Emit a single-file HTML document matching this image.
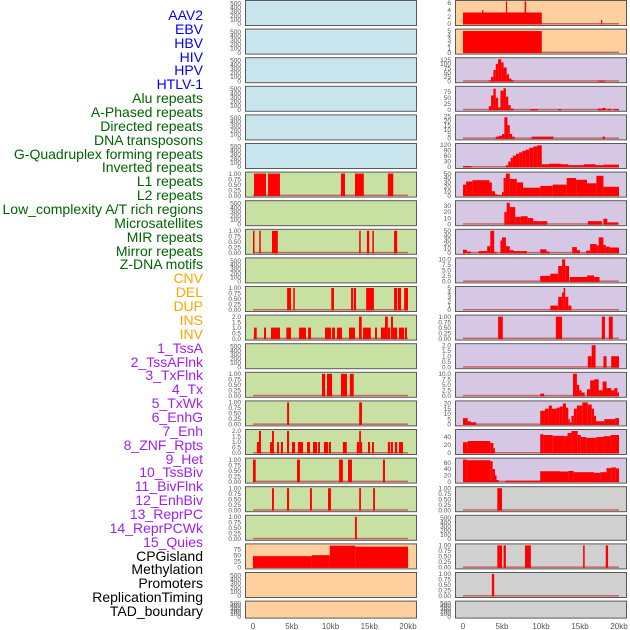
<!DOCTYPE html>
<html><head><meta charset="utf-8">
<style>
body{margin:0;background:#fff;width:630px;height:630px;overflow:hidden;position:relative;font-family:"Liberation Sans",sans-serif}
.lab{position:absolute;right:427px;font-size:14px;line-height:14px;white-space:nowrap}
svg{position:absolute;left:0;top:0}
</style></head><body>
<div id="labels"></div>
<svg id="chart" width="630" height="630"></svg>
<script>
const labelNames=["AAV2","EBV","HBV","HIV","HPV","HTLV-1","Alu repeats","A-Phased repeats","Directed repeats","DNA transposons","G-Quadruplex forming repeats","Inverted repeats","L1 repeats","L2 repeats","Low_complexity A/T rich regions","Microsatellites","MIR repeats","Mirror repeats","Z-DNA motifs","CNV","DEL","DUP","INS","INV","1_TssA","2_TssAFlnk","3_TxFlnk","4_Tx","5_TxWk","6_EnhG","7_Enh","8_ZNF_Rpts","9_Het","10_TssBiv","11_BivFlnk","12_EnhBiv","13_ReprPC","14_ReprPCWk","15_Quies","CPGisland","Methylation","Promoters","ReplicationTiming","TAD_boundary"];
const labelColors=["#0000ff","#006400","#ffa500","#a020f0","#000"];
const labelGroups=[6,13,5,15,5];
const xTicks=[0,5000,10000,15000,20000];
const xTickLabels=["0","5kb","10kb","15kb","20kb"];
// [startKb,endKb,value]
const leftBg=["#c8e4ec","#c8e4ec","#c8e4ec","#c8e4ec","#c8e4ec","#c8e4ec","#c8e0a2","#c8e0a2","#c8e0a2","#c8e0a2","#c8e0a2","#c8e0a2","#c8e0a2","#c8e0a2","#c8e0a2","#c8e0a2","#c8e0a2","#c8e0a2","#c8e0a2","#ffd09e","#ffd09e","#ffd09e"];
const rightBg=["#ffd09e","#ffd09e","#d6c8e4","#d6c8e4","#d6c8e4","#d6c8e4","#d6c8e4","#d6c8e4","#d6c8e4","#d6c8e4","#d6c8e4","#d6c8e4","#d6c8e4","#d6c8e4","#d6c8e4","#d6c8e4","#d6c8e4","#d0d0d0","#d0d0d0","#d0d0d0","#d0d0d0","#d0d0d0"];
const leftMax=[530,530,530,530,530,530,1,530,1,530,1,2,530,1,1,2,1,1,1,90,530,530];
const rightMax=[6.3,5.1,128,92,25,120,50,36,50,10,5,1,2,10,21,55,70,1,530,1,1,530];
const T500=[0,100,200,300,400,500],T1=[0,0.25,0.5,0.75,1],T2=[0,0.5,1,1.5,2],T10=[0,2.5,5,7.5,10];
const leftTicks=[T500,T500,T500,T500,T500,T500,T1,T500,T1,T500,T1,T2,T500,T1,T1,T2,T1,T1,T1,[0,25,50,75],T500,T500];
const rightTicks=[[0,2,4,6],[0,1,2,3,4,5],[0,25,50,75,100,125],[0,25,50,75],[0,5,10,15,20,25],[0,30,60,90,120],[0,10,20,30,40,50],[0,10,20,30],[0,10,20,30,40,50],T10,[0,1,2,3,4,5],T1,T2,T10,[0,5,10,15,20],[0,20,40],[0,20,40,60],T1,T500,T1,T1,T500];
const leftBars=[[],[],[],[],[],[],
[[0.13,1.68,1],[1.94,3.48,1],[11.35,11.87,1],[13.16,14.3,1],[17.4,18.1,1]],
[],
[[0,0.2,1],[0.8,1.0,1],[2.45,3.2,1],[13.7,13.9,1],[14.7,15.0,1],[15.4,15.6,1],[18.2,18.6,1]],
[],
[[4.4,4.9,1],[5.2,5.4,1],[10.1,10.45,1],[12.65,12.9,1],[13.0,13.3,1],[14.6,15.6,1],[18.2,18.6,1],[18.7,19.1,1],[19.5,20,1]],
[[0.13,0.48,1],[1.42,1.68,1],[2.32,3.48,1],[4.3,4.9,1],[5.94,6.84,1],[7.1,7.48,1],[9.29,10.06,1],[10.2,10.58,1],[10.84,11.48,1],[12.39,13.16,1],[13.68,14.03,2],[14.2,15.2,1],[15.74,16,1],[16.5,17.03,1],[17.03,17.4,2],[17.4,17.7,1],[17.8,18.06,2],[18.06,18.6,1],[18.84,19.48,1],[19.6,19.87,1]],
[],
[[8.9,9.3,1],[9.55,10.2,1],[11.35,12.13,1],[12.5,13.0,1]],
[[4.4,4.65,1],[13.7,14.06,1]],
[[0.5,0.77,1],[0.77,1.03,2],[2.2,2.45,1],[2.45,2.7,2],[3.1,3.35,1],[3.6,3.87,1],[4.39,4.65,2],[5.03,5.42,1],[5.8,6.45,1],[6.97,7.35,1],[7.74,8.26,1],[8.4,8.65,1],[9.16,9.68,1],[9.8,10.06,1],[11.6,12.1,1],[13.4,13.7,1],[13.7,13.93,2],[13.93,14.06,1],[14.84,15.1,1],[15.35,15.6,1],[17.4,17.7,1],[17.8,18.06,1],[18.3,18.6,1],[18.84,19.35,1]],
[[0,0.35,1],[5.68,6.06,1],[11.1,11.6,1],[12.26,12.77,1],[16.77,17.03,1]],
[[2.45,2.7,1],[4.39,4.65,1],[7.35,7.6,1],[9.68,10.06,1],[13.7,13.93,1],[15.5,15.74,1]],
[[13.16,13.4,1]],
[[0,7.6,46],[7.6,9.9,50],[9.9,13.2,89],[13.2,20,85]],
[],[]];
const rightBars=[
[[0,10.1,3.3],[2.45,2.6,4],[5.5,5.65,6.5],[7.9,8.1,6.5],[17.7,17.85,1.2]],
[[0,10.1,5]],
[[3.3,3.6,5],[3.6,3.9,25],[3.9,4.2,65],[4.2,4.5,100],[4.5,4.9,128],[4.9,5.2,110],[5.2,5.6,80],[5.6,5.9,40],[5.9,6.2,15],[6.2,6.5,5],[17.3,18.2,3]],
[[3.3,3.6,15],[3.6,3.9,60],[3.9,4.2,88],[4.2,4.5,50],[4.5,4.8,10],[4.8,5.2,80],[5.2,5.5,90],[5.5,5.8,55],[5.8,6.1,20],[6.1,6.5,5],[8.6,9.6,3],[12.2,12.6,3],[17.3,17.9,5],[17.9,18.3,8],[18.5,19,4],[19.3,20,3]],
[[4.2,4.6,2],[4.6,5.0,3],[5.0,5.3,5],[5.3,5.7,24],[5.7,6.0,15],[6.0,6.3,5],[6.3,6.6,2],[8.8,11.6,2],[17.9,18.2,2]],
[[0,1.1,5],[5.5,5.8,10],[5.8,6.1,30],[6.1,6.4,50],[6.4,6.8,62],[6.8,7.2,72],[7.2,7.6,80],[7.6,8.0,88],[8.0,8.5,95],[8.5,9.0,105],[9.0,9.5,112],[9.5,10.1,118],[10.1,11,15],[11,12.5,18],[12.5,13.5,15],[13.5,15.5,10],[15.5,17,15],[17,18,10],[18,20,13]],
[[0,0.4,25],[0.4,1.2,32],[1.2,3.4,35],[3.4,3.7,30],[3.7,4.1,10],[4.1,4.4,3],[4.4,5.0,1],[5.0,5.2,8],[5.2,5.5,40],[5.5,6.0,50],[6.0,6.9,38],[6.9,7.7,30],[7.7,9.9,18],[9.9,11.5,22],[11.5,13.3,25],[13.3,14.5,40],[14.5,15.9,36],[15.9,17.1,28],[17.1,18,45],[18,20,20]],
[[5.3,5.6,20],[5.6,6.0,35],[6.0,6.7,28],[6.7,7.4,12],[7.4,8.3,13],[8.3,9.0,10],[9.0,9.9,5],[9.9,10.8,5],[16,17.8,5],[18,18.5,9],[18.5,19.9,3]],
[[0,0.5,7],[0.5,1,3],[2,3.1,4],[3.1,3.5,15],[3.5,4.0,50],[4.0,4.3,2],[4.8,5.0,28],[5.0,5.5,35],[5.5,6.0,15],[6.0,6.5,6],[6.5,8.2,4],[9.9,10.7,8],[10.7,11.1,3],[14,14.6,13],[14.6,15,6],[15.8,16.3,5],[16.3,17.1,20],[17.1,17.4,17],[17.4,18,35],[18,18.3,18],[18.3,18.8,14],[18.8,20,12]],
[[9.9,11.2,2.5],[11.2,12.2,3.5],[12.2,12.7,7],[12.7,13.1,10],[13.1,13.6,7],[13.7,15.9,2],[15.9,16.8,2.7],[16.8,17.5,2]],
[[11.2,12.2,1],[12.2,12.7,3],[12.7,12.9,4],[12.9,13.1,5],[13.1,13.5,3],[13.5,13.9,1]],
[[4.5,5.1,1],[11.9,12.7,1],[17.8,18.2,1],[18.7,19.2,1]],
[[16,16.5,1],[16.5,17,2],[18,18.4,1],[19,20,1]],
[[9.9,10.4,1],[14.1,14.6,10],[14.6,14.9,5],[14.9,15.2,2.5],[15.2,15.6,1.5],[15.9,16.3,3],[16.3,16.8,7],[16.8,17.4,7.5],[17.4,17.9,2.5],[17.9,18.4,6.5],[18.4,19.0,3.5],[19,19.4,2.5],[19.4,19.8,3.5],[19.8,20,1.5]],
[[0,0.6,6],[0.6,1.0,3],[1.0,1.7,2],[9.9,10.5,13],[10.5,11,15],[11,11.4,18],[11.4,12,15],[12,12.4,16],[12.4,12.8,17],[12.8,13.2,20],[13.2,13.5,16],[13.5,13.7,5],[13.7,13.9,2],[13.9,14.2,8],[14.2,14.6,15],[14.6,15.3,18],[15.3,16,21],[16,16.5,19],[16.5,16.8,15],[16.8,17.05,8],[17.05,18.1,3],[18.1,19.5,5],[19.5,20,6]],
[[0,0.6,27],[0.6,3.5,30],[3.5,3.9,25],[3.9,4.1,12],[9.9,10.3,47],[10.3,11.5,45],[11.5,13.0,43],[13.0,13.4,42],[13.4,13.9,50],[13.9,14.7,55],[14.7,15.1,45],[15.1,15.8,40],[15.8,17.1,38],[17.1,18,40],[18,18.9,42],[18.9,20,45]],
[[0,0.5,70],[0.5,3.5,68],[3.5,3.8,65],[3.8,4.1,40],[4.1,4.3,20],[4.3,4.6,5],[5.4,9.9,3],[9.9,12.5,33],[12.5,13.5,32],[13.5,14.2,34],[14.2,15,30],[15,16.8,30],[16.8,17.6,28],[17.6,18.4,30],[18.4,19,43],[19,19.6,45],[19.6,20,42]],
[[4.4,5.0,1]],
[],
[[4.4,5.0,1],[5.2,5.5,1],[7.95,8.7,1],[15.4,15.6,1],[18.3,18.6,1]],
[[3.7,4.0,1]],
[]];

const NS="http://www.w3.org/2000/svg";
const svg=document.getElementById('chart');
function mk(tag,attrs,parent){const e=document.createElementNS(NS,tag);for(const k in attrs)e.setAttribute(k,attrs[k]);(parent||svg).appendChild(e);return e;}
function fmt(v,ticks){const dec=ticks.some(t=>Math.round(t*100)%100!==0)?(ticks.some(t=>Math.round(t*100)%50!==0)?2:1):0;if(ticks===T10)return v.toFixed(1);return v.toFixed(dec);}
// labels
const labDiv=document.getElementById('labels');
let li=0;
labelGroups.forEach((n,g)=>{for(let k=0;k<n;k++){const d=document.createElement('div');d.className='lab';d.textContent=labelNames[li];d.style.color=labelColors[g];d.style.top=(8+li*13.86)+'px';


labDiv.appendChild(d);li++;}});

const cols=[{x0:245,x1:416,d0:253,d1:408,bg:leftBg,max:leftMax,ticks:leftTicks,bars:leftBars,tx:241},
{x0:455,x1:626,d0:463,d1:619,bg:rightBg,max:rightMax,ticks:rightTicks,bars:rightBars,tx:451}];
cols.forEach((c,ci)=>{
 const xs=kb=>c.d0+(c.d1-c.d0)*Math.min(Math.max(kb,0),20)/20;
 for(let r=0;r<22;r++){
  const top=r*28.6, h=(r===21?17:25);
  const g=mk('g',{});
  
  
  const bg=mk('rect',{x:c.x0+0.5,y:top+0.5,width:c.x1-c.x0,height:h,fill:c.bg[r],stroke:'#5a5a5a','stroke-width':1},g);
  
  
  const pT=top+2, pB=top+h-1;
  const ys=v=>pB-(pB-pT)*v/c.max[r];
  c.ticks[r].forEach(t=>{
   const tl=mk('text',{x:c.tx,y:ys(t)+2.2,'text-anchor':'end','font-size':6.5,fill:'#555','font-family':'Liberation Sans, sans-serif'},g);
   tl.textContent=fmt(t,c.ticks[r]);
   
   
  });
  if(c.bars[r].length){
   const bl=mk('rect',{x:xs(0),y:ys(0)-1,width:xs(20)-xs(0),height:1.5,fill:'#c86464'},g);
   
   
  }
  c.bars[r].forEach(b=>{
   const y=ys(b[2]);
   const br=mk('rect',{x:xs(b[0]),y:y,width:Math.max(xs(b[1])-xs(b[0]),1.2),height:ys(0)-y+0.5,fill:'#ff0000'},g);
   
   
  });
 }
 xTicks.forEach((t,i)=>{
  const tl=mk('text',{x:xs(t/1000),y:629,'text-anchor':'middle','font-size':8,fill:'#555','font-family':'Liberation Sans, sans-serif'});
  tl.textContent=xTickLabels[i];
  
  
 });
});
</script>
</body></html>
